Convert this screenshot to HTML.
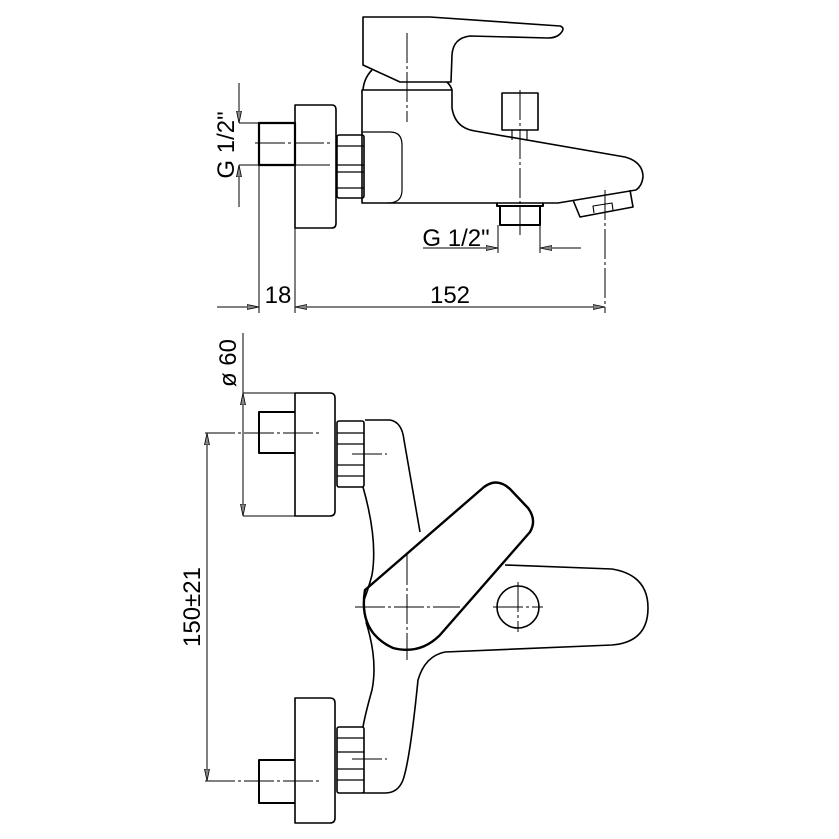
<!DOCTYPE html>
<html><head><meta charset="utf-8"><style>
html,body{margin:0;padding:0;background:#fff;}
svg{display:block;}
text{font-family:"Liberation Sans Narrow","Liberation Sans",sans-serif;fill:#000;}
</style></head><body>
<svg width="839" height="839" viewBox="0 0 839 839" xmlns="http://www.w3.org/2000/svg">
<defs>
<marker id="a" viewBox="0 0 12 6" refX="12" refY="3" markerWidth="12" markerHeight="6" orient="auto-start-reverse" markerUnits="userSpaceOnUse"><path d="M0,0.5 L12,3 L0,5.5 Z" fill="#888" stroke="#000" stroke-width="0.8"/></marker>
</defs>
<g fill="none" stroke="#000" stroke-width="1.6" stroke-linejoin="round">
<path d="M363,17 L430,17 L560,26 Q566,28 560,34 Q556,38 548,38 L470,36 Q453,38 452,55 L451,82 L400,82 L363,65 Z"/>
<path d="M372,70 Q364,78 363,90"/>
<path d="M447,82 Q451,86 452,90"/>
<path d="M362,90 L452,90 L452,108 Q455,128 475,131 L625,157 Q643,162 643,177 Q642,186 636,190 L558,203 L362,203 Z"/>
<path d="M362,132 L390,132 Q402,132 402,145 L402,190 Q402,203 388,203" stroke-width="1.2"/>
<path d="M573,200 L580,217 L633,207 L630,190"/>
<path d="M594,213 L593,206 L612,203 L613,210" stroke-width="1.1"/>
<rect x="502" y="93" width="36" height="37"/>
<path d="M512,130 L512,140 M527,130 L527,140" stroke-width="1.1"/>
<path d="M497,203 L497,206 L543,206 L543,203 M500,206 L500,225 L540,225 L540,206" stroke-width="2"/>
<rect x="337" y="135" width="27" height="63" rx="2"/>
<path d="M337,146 L364,146 M337,165 L364,165 M337,172 L364,172 M337,188 L364,188" stroke-width="1.2"/>
<path d="M295,105 L332,105 Q336,105 336,110 L336,223 Q336,228 332,228 L295,228 Z"/>
<rect x="259" y="123" width="36" height="42" stroke-width="2.2"/>

<path d="M295,393 L330,393 Q335,393 335,398 L335,511 Q335,516 330,516 L295,516 Z"/>
<path d="M295,412 L259,412 L259,453 L295,453" stroke-width="2"/>
<rect x="337" y="421" width="27" height="66" rx="2"/>
<path d="M337,433 L364,433 M337,444 L364,444 M337,465 L364,465 M337,476 L364,476" stroke-width="1.2"/>
<path d="M295,698 L330,698 Q335,698 335,703 L335,818 Q335,823 330,823 L295,823 Z"/>
<path d="M295,760 L259,760 L259,803 L295,803" stroke-width="2"/>
<rect x="337" y="727" width="27" height="66" rx="2"/>
<path d="M337,738 L364,738 M337,752 L364,752 M337,769 L364,769 M337,780 L364,780" stroke-width="1.2"/>
<path d="M365,420 L390,420 Q402,422 404,440 L420,532"/>
<path d="M363,487 Q378,540 372,575 Q368,590 364,600"/>
<path d="M366,622 Q378,660 372,690 Q365,715 363,727"/>
<path d="M505,565 L612,569 Q648,575 648,608 Q648,642 612,645 L445,652 Q425,656 418,680 Q410,760 403,780 Q398,793 385,793 L363,793"/>
<path d="M365,590 L484,487 Q497,477 510,489 L528,508 Q537,520 530,532 L440,635 Q420,655 393,648 Q358,632 365,590 Z" stroke-width="2.4"/>
<circle cx="518" cy="607" r="21"/>
</g>

<g stroke="#000" stroke-width="1" fill="none" stroke-dasharray="30,3,3,3">
<path d="M407,33 L407,122"/>
<path d="M520,90 L520,235"/>
<path d="M255,143 L330,143"/>
<path d="M205,433 L322,433"/>
<path d="M205,781 L322,781"/>
<path d="M352,454 L387,454"/>
<path d="M352,759 L387,759"/>
<path d="M355,607 L460,607"/>
<path d="M407,555 L407,660"/>
<path d="M493,607 L543,607"/>
<path d="M518,582 L518,632"/>
<path d="M605,190 L605,313"/>
</g>

<g stroke="#000" stroke-width="1" fill="none">
<path d="M239,83 L239,123" marker-end="url(#a)"/>
<path d="M239,207 L239,165" marker-end="url(#a)"/>
<path d="M239,123 L259,123 M239,165 L330,165"/>
<path d="M259,165 L259,313 M295,228 L295,313"/>
<path d="M217,307 L259,307" marker-end="url(#a)"/>
<path d="M295,307 L605,307" marker-start="url(#a)" marker-end="url(#a)"/>
<path d="M423,248 L498,248" marker-end="url(#a)"/>
<path d="M581,248 L540,248" marker-end="url(#a)"/>
<path d="M498,225 L498,253 M540,225 L540,253"/>
<path d="M243,333 L243,516"/>
<path d="M243,440 L243,393" marker-end="url(#a)"/>
<path d="M243,470 L243,516" marker-end="url(#a)"/>
<path d="M243,393 L330,393 M243,516 L295,516"/>
<path d="M207,433 L207,781" marker-start="url(#a)" marker-end="url(#a)"/>
</g>

<g font-size="24">
<text x="278" y="303" text-anchor="middle">18</text>
<text x="450" y="303" text-anchor="middle">152</text>
<text x="456" y="246" text-anchor="middle">G  1/2"</text>
<text transform="translate(234,145) rotate(-90)" text-anchor="middle">G  1/2"</text>
<text transform="translate(236,363) rotate(-90)" text-anchor="middle">ø 60</text>
<text transform="translate(200,607) rotate(-90)" text-anchor="middle">150±21</text>
</g>
</svg>
</body></html>
